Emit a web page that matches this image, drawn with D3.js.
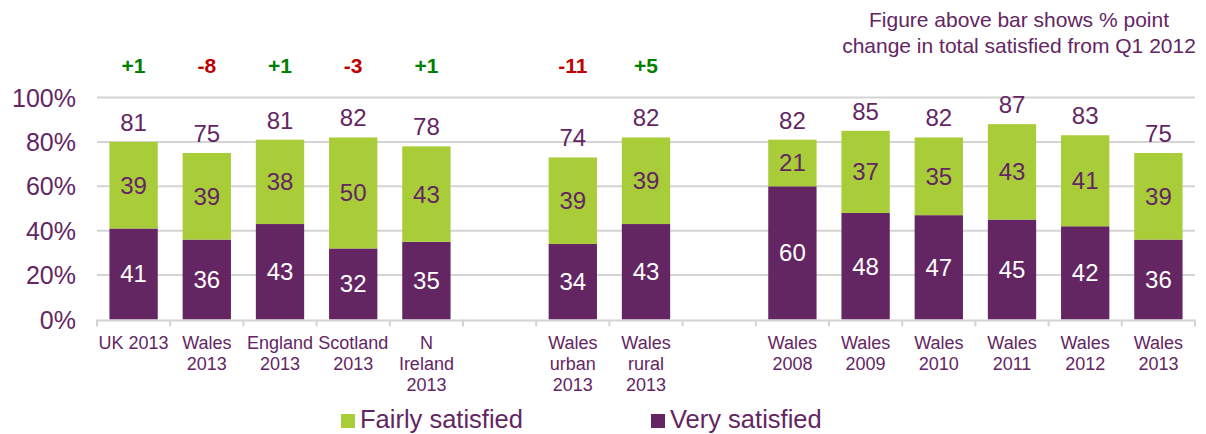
<!DOCTYPE html>
<html>
<head>
<meta charset="utf-8">
<script src="https://cdn.jsdelivr.net/npm/d3@7"></script>
<style>
  body { margin: 0; background: #fff; }
  text { font-family: "Liberation Sans", Arial, sans-serif; }
</style>
</head>
<body>
<svg width="1206" height="434"></svg>
<script>
// data (gap slots are empty spacers)
const categories = ["UK 2013", "Wales 2013", "England 2013", "Scotland 2013", "N Ireland 2013", "gap1",
    "Wales urban 2013", "Wales rural 2013", "gap2",
    "Wales 2008", "Wales 2009", "Wales 2010", "Wales 2011", "Wales 2012", "Wales 2013b"];
const labelLines = [["UK 2013"], ["Wales", "2013"], ["England", "2013"], ["Scotland", "2013"], ["N", "Ireland", "2013"], [],
    ["Wales", "urban", "2013"], ["Wales", "rural", "2013"], [],
    ["Wales", "2008"], ["Wales", "2009"], ["Wales", "2010"], ["Wales", "2011"], ["Wales", "2012"], ["Wales", "2013"]];
const verySatisfied   = [41, 36, 43, 32, 35, null, 34, 43, null, 60, 48, 47, 45, 42, 36];
const fairlySatisfied = [39, 39, 38, 50, 43, null, 39, 39, null, 21, 37, 35, 43, 41, 39];
const totals          = [81, 75, 81, 82, 78, null, 74, 82, null, 82, 85, 82, 87, 83, 75];
const changes         = [1, -8, 1, -3, 1, null, -11, 5, null, null, null, null, null, null, null];
const yTicks = [0, 20, 40, 60, 80, 100];

const purple = "#632663";
const green = "#a8cd38";

const svg = d3.select("svg");
const plotLeft = 97, plotRight = 1195, plotTop = 97.5, plotBottom = 319.5;

const x = d3.scaleBand().domain(categories).range([plotLeft, plotRight]).paddingInner(0.34).paddingOuter(0.17);
const y = d3.scaleLinear().domain([0, 100]).range([plotBottom, plotTop]);

// gridlines
svg.append("g").selectAll("line").data(yTicks.filter(d => d > 0)).join("line")
    .attr("x1", plotLeft).attr("x2", plotRight)
    .attr("y1", d => y(d)).attr("y2", d => y(d))
    .attr("stroke", "#d4d4d4").attr("stroke-width", 2);

// y labels
svg.append("g").selectAll("text").data(yTicks).join("text")
    .attr("x", 76).attr("y", d => y(d) + 9)
    .attr("text-anchor", "end")
    .attr("fill", purple).attr("font-size", 25)
    .text(d => d + "%");

const rows = categories.map((c, i) => ({
    c, i, very: verySatisfied[i], fairly: fairlySatisfied[i], total: totals[i], change: changes[i]
})).filter(d => d.very != null);

// very satisfied
svg.append("g").selectAll("rect").data(rows).join("rect")
    .attr("x", d => x(d.c)).attr("width", x.bandwidth())
    .attr("y", d => y(d.very)).attr("height", d => y(0) - y(d.very))
    .attr("fill", purple);

// fairly satisfied
svg.append("g").selectAll("rect").data(rows).join("rect")
    .attr("x", d => x(d.c)).attr("width", x.bandwidth())
    .attr("y", d => y(d.very + d.fairly)).attr("height", d => y(d.very) - y(d.very + d.fairly))
    .attr("fill", green);

const cx = d => x(d.c) + x.bandwidth() / 2;

svg.append("g").selectAll("text").data(rows).join("text")
    .attr("x", cx).attr("y", d => y(d.very / 2) + 8.5)
    .attr("text-anchor", "middle").attr("fill", "#fff").attr("font-size", 24)
    .text(d => d.very);

svg.append("g").selectAll("text").data(rows).join("text")
    .attr("x", cx).attr("y", d => y(d.very + d.fairly / 2) + 8.5)
    .attr("text-anchor", "middle").attr("fill", purple).attr("font-size", 24)
    .text(d => d.fairly);

// totals above bars
svg.append("g").selectAll("text").data(rows).join("text")
    .attr("x", cx).attr("y", d => y(d.very + d.fairly) - 11)
    .attr("text-anchor", "middle").attr("fill", purple).attr("font-size", 24)
    .text(d => d.total);

// change figures
svg.append("g").selectAll("text").data(rows.filter(d => d.change != null)).join("text")
    .attr("x", cx).attr("y", 73)
    .attr("text-anchor", "middle").attr("font-size", 21).attr("font-weight", "bold")
    .attr("fill", d => d.change > 0 ? "#008000" : "#c00000")
    .text(d => (d.change > 0 ? "+" : "") + d.change);

// x axis
const axis = svg.append("g");
axis.append("line").attr("x1", plotLeft).attr("x2", plotRight).attr("y1", plotBottom + 1).attr("y2", plotBottom + 1)
    .attr("stroke", "#d4d4d4").attr("stroke-width", 2);
const step = x.step();
axis.selectAll("line.tick").data(d3.range(categories.length + 1)).join("line")
    .attr("class", "tick")
    .attr("x1", i => plotLeft + i * step).attr("x2", i => plotLeft + i * step)
    .attr("y1", plotBottom).attr("y2", plotBottom + 7)
    .attr("stroke", "#d4d4d4").attr("stroke-width", 2);

const xl = svg.append("g").selectAll("text").data(categories).join("text")
    .attr("text-anchor", "middle").attr("fill", purple).attr("font-size", 18)
    .attr("x", c => x(c) + x.bandwidth() / 2);
xl.each(function(c, i) {
    d3.select(this).selectAll("tspan").data(labelLines[i]).join("tspan")
        .attr("x", x(c) + x.bandwidth() / 2)
        .attr("y", (d, j) => 349 + j * 21)
        .text(d => d);
});

// note top right
svg.append("g").selectAll("text")
    .data(["Figure above bar shows % point", "change in total satisfied from Q1 2012"]).join("text")
    .attr("x", 1019).attr("y", (d, i) => 27 + i * 26)
    .attr("text-anchor", "middle").attr("fill", purple).attr("font-size", 21)
    .text(d => d);

// legend
const legend = [{ name: "Fairly satisfied", color: green, x: 341 }, { name: "Very satisfied", color: purple, x: 651 }];
const lg = svg.append("g").selectAll("g").data(legend).join("g")
    .attr("transform", d => `translate(${d.x},414)`);
lg.append("rect").attr("width", 14).attr("height", 14).attr("fill", d => d.color);
lg.append("text").attr("x", 19).attr("y", 14).attr("fill", purple).attr("font-size", 25.5)
    .text(d => d.name);
</script>
</body>
</html>
